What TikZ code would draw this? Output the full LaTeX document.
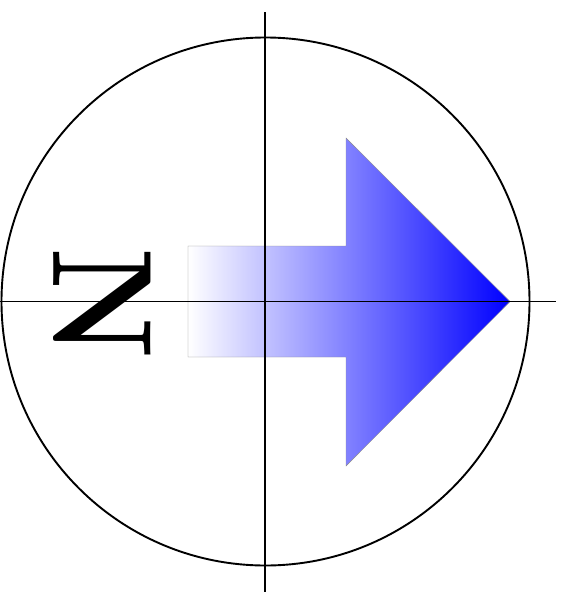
\documentclass[tikz,border=0pt]{standalone}
\usepackage{tikz}
\begin{document}
\begin{tikzpicture}[x=1pt,y=-1pt,
  axisline/.style={black,line width=1.9pt},
  ringline/.style={black,line width=1.9pt},
  arrowshape/.style={shading=axis,left color=white,right color=blue,shading angle=90,draw=black!45,line width=0.4pt,line join=miter},
  letter/.style={inner sep=0pt,outer sep=0pt,rotate=-90,font=\fontsize{142}{142}\selectfont\bfseries}]
\useasboundingbox (0,0) rectangle (564,605);
% arrow
\path[arrowshape] (188,246) -- (346,246) -- (346,138) -- (510,301.5) -- (346,466) -- (346,357) -- (188,357) -- cycle;
% circle
\coordinate (c) at (265.5,301.5);
\draw[ringline] (c) circle[radius=264];
% axes
\coordinate (hl) at (0,301.5);
\coordinate (hr) at (556,301.5);
\coordinate (vt) at (265,12);
\coordinate (vb) at (265,592);
\draw[axisline] (hl) -- (hr);
\draw[axisline] (vt) -- (vb);
% letter
\node[letter] (n) at (102,303.5) {\scalebox{0.9}[1]{N}};
\end{tikzpicture}
\end{document}
